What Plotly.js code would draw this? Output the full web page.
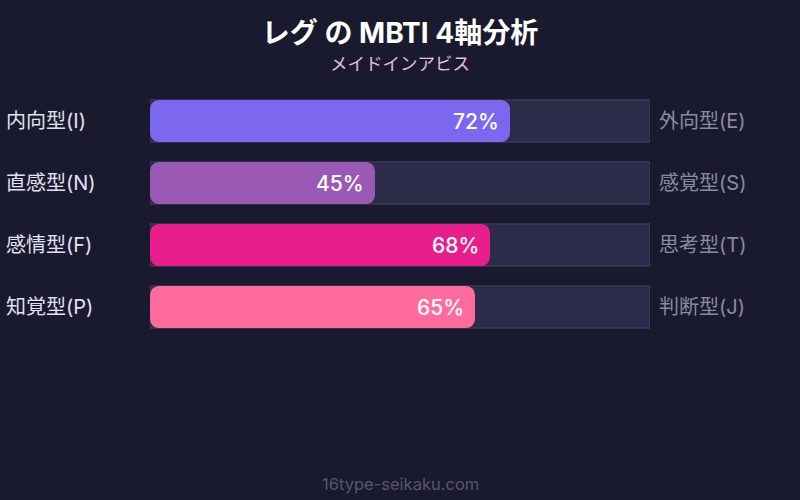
<!DOCTYPE html>
<html>
<head>
<meta charset="utf-8">
<script src="https://cdn.plot.ly/plotly-3.0.1.min.js"></script>
<style>
  html, body { margin: 0; padding: 0; background: #1a1a2e; }
  #chart { width: 800px; height: 500px; }
</style>
</head>
<body>
<div id="chart"></div>
<script>
    // 軸ごとの値
    var axes = ['EI', 'NS', 'FT', 'PJ'];
    var leftLabels = ['内向型(I)', '直感型(N)', '感情型(F)', '知覚型(P)'];
    var rightLabels = ['外向型(E)', '感覚型(S)', '思考型(T)', '判断型(J)'];
    var percents = [72, 45, 68, 65];
    var full = [100, 100, 100, 100];
    var barColors = ['#7b68ee', '#9b59b6', '#e91e8c', '#ff6b9d'];

    var font = 'Inter, "Noto Sans CJK JP", sans-serif';

    // 背景トラック（角なし）
    var track = {
        type: 'bar',
        orientation: 'h',
        y: axes,
        x: full,
        yaxis: 'y',
        marker: { color: '#2d2b4a', line: { color: '#454360', width: 1 } },
        hoverinfo: 'skip'
    };

    // plotly は base から遠い端しか丸めないので、バーを真ん中で二つに分けて
    // 右半分は右向き、左半分は左向きに描く（少し重ねる）
    var valuesRight = {
        type: 'bar',
        orientation: 'h',
        y: axes,
        x: percents.map( v => v * 0.6 ),
        base: percents.map( v => v * 0.4 ),
        yaxis: 'y2',
        marker: { color: barColors, cornerradius: 9 },
        hoverinfo: 'skip'
    };

    var valuesLeft = {
        type: 'bar',
        orientation: 'h',
        y: axes,
        x: percents.map( v => -v * 0.6 ),
        base: percents.map( v => v * 0.6 ),
        yaxis: 'y3',
        marker: { color: barColors, cornerradius: 9 },
        hoverinfo: 'skip'
    };

    var annotations = [];
    for ( let i = 0; i < axes.length; i++ ) {
        annotations.push({
            xref: 'paper', yref: 'y', x: -0.292, y: axes[i],
            xanchor: 'left', yanchor: 'middle', showarrow: false,
            text: leftLabels[i],
            font: { family: font, size: 20, color: '#e2e2f0' }
        });
        annotations.push({
            xref: 'paper', yref: 'y', x: 1, y: axes[i], xshift: 7,
            xanchor: 'left', yanchor: 'middle', showarrow: false,
            text: rightLabels[i],
            font: { family: font, size: 20, color: '#8a8aa2' }
        });
        annotations.push({
            xref: 'x', yref: 'y', x: percents[i], y: axes[i], xshift: -9,
            xanchor: 'right', yanchor: 'middle', showarrow: false,
            text: percents[i] + '%',
            font: { family: font, size: 21, color: '#ffffff', weight: 500 }
        });
    };

    annotations.push({
        xref: 'paper', yref: 'paper', x: 0.5, y: 1, yshift: 27,
        xanchor: 'center', yanchor: 'middle', showarrow: false,
        text: 'メイドインアビス',
        font: { family: font, size: 17.5, color: '#e2bde2' }
    });
    annotations.push({
        xref: 'paper', yref: 'paper', x: 0.5, y: 0, yshift: -146,
        xanchor: 'center', yanchor: 'middle', showarrow: false,
        text: '16type-seikaku.com',
        font: { family: font, size: 16.5, color: '#565674' }
    });

    var yRange = [3.5, -0.5];

    var layout = {
        width: 800,
        height: 500,
        paper_bgcolor: '#1a1a2e',
        plot_bgcolor: '#1a1a2e',
        margin: { l: 150, r: 150, t: 90, b: 162 },
        title: {
            text: '<b>レグ の MBTI 4軸分析</b>',
            x: 0.5, xanchor: 'center',
            y: 0.934, yref: 'container', yanchor: 'middle',
            pad: { t: 0 },
            font: { family: font, size: 28, color: '#ffffff' }
        },
        barmode: 'group',
        bargap: 0.32,
        showlegend: false,
        xaxis: { range: [0, 100], visible: false, fixedrange: true },
        yaxis: { range: yRange, visible: false, fixedrange: true },
        yaxis2: { range: yRange, visible: false, fixedrange: true, overlaying: 'y' },
        yaxis3: { range: yRange, visible: false, fixedrange: true, overlaying: 'y' },
        annotations: annotations
    };

    Plotly.newPlot('chart', [track, valuesRight, valuesLeft], layout, { displayModeBar: false });
</script>
</body>
</html>
